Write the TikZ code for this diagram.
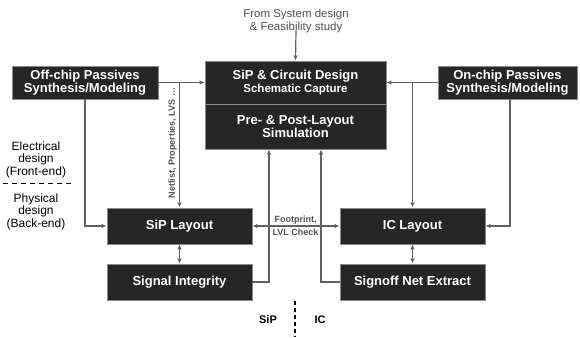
\documentclass[tikz,border=0pt]{standalone}
\usepackage{fontspec}
\setmainfont{Liberation Sans}
\usetikzlibrary{arrows.meta,calc}
\definecolor{boxfill}{HTML}{262626}
\definecolor{boxline}{HTML}{8A8A8A}
\definecolor{conn}{HTML}{606060}
\definecolor{lbl}{HTML}{505050}
\begin{document}
\begin{tikzpicture}[x=1pt,y=-1pt,
  blk/.style={draw=boxline,line width=0.8pt,fill=boxfill,text=white,font=\fontsize{13}{14}\selectfont\bfseries,align=center,inner sep=0pt},
  conline/.style={draw=conn,line width=1.2pt},
  arr/.style={conline,-{Latex[length=5pt,width=4.5pt]}},
  dblarr/.style={conline,{Latex[length=5pt,width=4.5pt]}-{Latex[length=5pt,width=4.5pt]}},
  smlbl/.style={text=lbl,font=\fontsize{9}{10}\selectfont\bfseries,inner sep=0pt},
  sidetxt/.style={font=\fontsize{12}{12.5}\selectfont,anchor=base,inner sep=0pt}
]
\useasboundingbox (0,0) rectangle (580,337);

% boxes
\node[blk,minimum width=146pt,minimum height=33pt] (offchip) at (85,82.5) {Off-chip Passives\\[-1pt]Synthesis/Modeling};
\node[blk,minimum width=181pt,minimum height=43pt] (design) at (295.5,82.5) {SiP \& Circuit Design\\[-1pt]{\fontsize{11.5}{12}\selectfont Schematic Capture}};
\node[blk,minimum width=181pt,minimum height=45pt] (sim) at (295.5,126.5) {Pre- \& Post-Layout\\[-1pt]Simulation};
\node[blk,minimum width=139pt,minimum height=33pt] (onchip) at (507.5,82.5) {On-chip Passives\\[-1pt]Synthesis/Modeling};
\node[blk,minimum width=145pt,minimum height=36pt] (siplay) at (179.5,226) {SiP Layout};
\node[blk,minimum width=145pt,minimum height=36pt] (si) at (179.5,282) {Signal Integrity};
\node[blk,minimum width=145pt,minimum height=36pt] (iclay) at (412.5,226) {IC Layout};
\node[blk,minimum width=145pt,minimum height=36pt] (signoff) at (412.5,282) {Signoff Net Extract};

% top input
\node[text=lbl,font=\fontsize{11.5}{13.5}\selectfont,align=center,inner sep=0pt] (from) at (296,21) {From System design\\\& Feasibility study};
\draw[arr] ([yshift=3pt]from.south) -- (design.north);

% off-chip connections
\draw[arr] (offchip.east) -- (design.west);
\draw[arr] (siplay.north |- offchip.east) -- (siplay.north);
\draw[arr] (offchip.south) |- (siplay.west);
\node[smlbl,rotate=90] (netlbl) at (172.5,143) {Netlist, Properties, LVS \dots};

% on-chip connections
\draw[arr] (onchip.west) -- (design.east);
\draw[arr] (iclay.north |- onchip.west) -- (iclay.north);
\draw[arr] ([xshift=2.5pt]onchip.south) |- (iclay.east);

% layouts
\draw[dblarr] (siplay.east) -- (iclay.west);
\node[smlbl] (fp) at (295.5,220) {Footprint,};
\node[smlbl] (lvl) at (295.5,232.5) {LVL Check};
\draw[dblarr] (siplay.south) -- (si.north);
\draw[dblarr] (iclay.south) -- (signoff.north);

% feedback to simulation
\draw[arr] (si.east) -| ([xshift=-26.5pt]sim.south);
\draw[arr] (signoff.west) -| ([xshift=25.5pt]sim.south);

% side labels
\node[sidetxt] (e1) at (36,150) {Electrical};
\node[sidetxt] (e2) at (36,162.5) {design};
\node[sidetxt] (e3) at (36,175) {(Front-end)};
\node[sidetxt] (p1) at (36,202) {Physical};
\node[sidetxt] (p2) at (36,214.5) {design};
\node[sidetxt] (p3) at (36,227) {(Back-end)};
\coordinate (dl1) at (3,183);
\coordinate (dl2) at (73,183);
\draw[line width=1pt,dash pattern=on 5pt off 4pt] (dl1) -- (dl2);

% SiP / IC separator
\coordinate (sep1) at (295,301);
\coordinate (sep2) at (295,337);
\draw[line width=1.2pt,dash pattern=on 4pt off 3pt] (sep1) -- (sep2);
\node[font=\fontsize{11}{12}\selectfont\bfseries,inner sep=0pt] (siplbl) at (268,320) {SiP};
\node[font=\fontsize{11}{12}\selectfont\bfseries,inner sep=0pt] (iclbl) at (320,320) {IC};
\end{tikzpicture}
\end{document}
